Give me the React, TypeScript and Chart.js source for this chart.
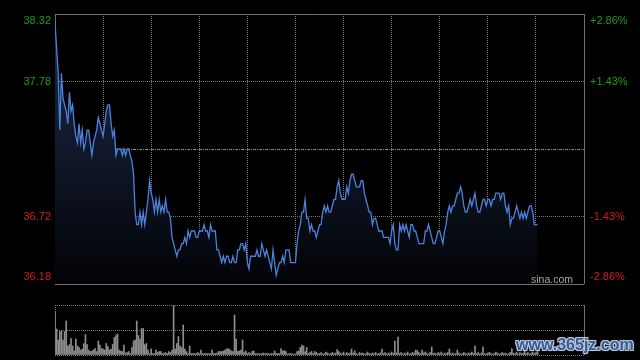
import React, { useEffect, useRef } from 'react';
import { Chart, registerables } from 'chart.js';

Chart.register(...registerables);

// ---- data ----
const PREV_CLOSE = 37.25;
const PRICE_MAX = 38.32;
const PRICE_MIN = 36.18;
const SESSION_MINUTES = 330;

const gridMinutes = [0, 30, 60, 90, 120, 150, 180, 210, 240, 270, 300, 330];
const priceTicks = [36.18, 36.715, 37.25, 37.785, 38.32];
const priceTickLabels = ['36.18', '36.72', '', '37.78', '38.32'];
const pctTickLabels = ['-2.86%', '-1.43%', '', '+1.43%', '+2.86%'];

const pricesMorning = [
  38.25, 38.05, 37.85, 37.40, 37.85, 37.65, 37.60, 37.55, 37.45, 37.70,
  37.55, 37.60, 37.45, 37.35, 37.30, 37.45, 37.30, 37.40, 37.25, 37.30,
  37.40, 37.40, 37.30, 37.20, 37.30, 37.35, 37.40, 37.50, 37.45, 37.40,
  37.35, 37.45, 37.55, 37.60, 37.60, 37.45, 37.35, 37.40, 37.20, 37.25,
  37.25, 37.25, 37.20, 37.25, 37.20, 37.25, 37.25, 37.20, 37.15, 37.05,
  36.75, 36.65, 36.65, 36.75, 36.65, 36.75, 36.65, 36.75, 36.85, 37.00,
  36.90, 36.85, 36.75, 36.85, 36.75, 36.85, 36.75, 36.80, 36.75, 36.85,
  36.75, 36.75, 36.70, 36.55, 36.50, 36.45, 36.40, 36.45, 36.45, 36.50,
  36.50, 36.55, 36.50, 36.60, 36.55,
];
const pricesMidday = [
  36.60, 36.60, 36.60, 36.55, 36.55, 36.60, 36.60, 36.60, 36.65, 36.60,
  36.60, 36.55, 36.65, 36.60, 36.60, 36.60, 36.45, 36.45, 36.40, 36.35,
  36.40, 36.35, 36.40, 36.40, 36.35, 36.35, 36.40, 36.35, 36.35, 36.45,
  36.45, 36.50, 36.50, 36.45, 36.50, 36.35, 36.30, 36.40, 36.40, 36.40,
  36.40, 36.45, 36.40, 36.40, 36.50, 36.45, 36.40, 36.45, 36.40, 36.35,
  36.30, 36.45, 36.35, 36.25, 36.30, 36.35, 36.35, 36.40, 36.35, 36.45,
  36.45, 36.45, 36.35, 36.35, 36.35, 36.35, 36.50, 36.60, 36.65, 36.75,
  36.75, 36.85, 36.70, 36.70, 36.60, 36.65, 36.60, 36.60, 36.55, 36.60,
  36.65, 36.65,
];
const pricesAfternoon = [
  36.75, 36.80, 36.75, 36.80, 36.75, 36.75, 36.80, 36.85, 36.85, 36.95,
  37.00, 36.90, 36.85, 36.85, 36.85, 36.95, 36.90, 37.00, 37.05, 37.05,
  37.00, 36.95, 36.95, 36.95, 37.00, 37.00, 36.90, 36.85, 36.80, 36.75,
  36.75, 36.65, 36.70, 36.70, 36.65, 36.60, 36.60, 36.60, 36.55, 36.55,
  36.55, 36.55, 36.50, 36.60, 36.65, 36.50, 36.45, 36.45, 36.65, 36.60,
  36.65, 36.60, 36.65, 36.60, 36.55, 36.65, 36.65, 36.60, 36.60, 36.55,
  36.50, 36.50, 36.50, 36.50, 36.60, 36.60, 36.65, 36.60, 36.55, 36.50,
  36.50, 36.55, 36.60, 36.60, 36.55, 36.50, 36.60, 36.65, 36.75, 36.80,
  36.75, 36.80,
];
const pricesLate = [
  36.80, 36.85, 36.90, 36.90, 36.95, 36.90, 36.80, 36.75, 36.75, 36.80,
  36.85, 36.80, 36.85, 36.90, 36.80, 36.75, 36.75, 36.80, 36.85, 36.85,
  36.80, 36.85, 36.85, 36.80, 36.85, 36.85, 36.90, 36.90, 36.90, 36.85,
  36.90, 36.90, 36.80, 36.75, 36.80, 36.65, 36.70, 36.70, 36.75, 36.80,
  36.75, 36.70, 36.75, 36.70, 36.75, 36.70, 36.75, 36.80, 36.80, 36.75,
  36.65, 36.65, 36.65,
];
const prices = [...pricesMorning, ...pricesMidday, ...pricesAfternoon, ...pricesLate];

const volumesEarly = [
  87, 52, 30, 47, 48, 30, 47, 68, 18, 21,
  33, 18, 8, 32, 18, 15, 10, 12, 23, 41,
  21, 10, 7, 8, 10, 13, 7, 28, 20, 13,
  12, 10, 23, 17, 10, 12, 21, 35, 39, 42,
  10, 8, 7, 20, 4, 5, 7, 3, 15, 28,
  30, 68, 39, 32, 53, 53, 21, 23, 10, 3,
  12, 3, 3, 10, 5, 7, 7, 3, 4, 5,
  3, 7, 5, 10, 100, 12, 23, 37, 18, 15,
  60, 12, 7, 3, 18, 3, 3, 3, 3, 5,
  3, 10, 3, 3, 3, 3, 3, 3, 10, 3,
  3, 4, 7, 7, 7, 8, 10, 12, 13, 11,
  8, 7, 80, 32, 7, 8, 10, 30, 5, 8,
  3, 5, 3, 7, 8, 3, 3, 3, 2, 3,
  4, 3, 3, 3, 2, 3, 3, 8, 3, 3,
  3, 13, 8, 9, 7, 2, 3, 3, 2, 2,
  2, 7, 8, 15, 20, 18, 7, 15, 3, 5,
  7, 3, 7, 5, 3,
];
const volumesLate = [
  3, 5, 2, 3, 6, 4, 2, 3, 5, 3, 4,
  11,
  7, 4, 3, 6, 2, 5, 3, 4,
  12, 4, 8,
  3, 2, 5, 3, 4, 2, 3, 6, 3, 2, 4, 3, 5, 2, 3, 4,
  12,
  3, 5, 2, 4, 3, 6, 3,
  28, 4, 36,
  3, 5, 2, 4, 3, 6, 2, 3, 5, 4,
  10, 9, 5, 3, 10,
  4, 6, 3, 2, 5,
  16,
  3, 4, 2, 5, 3, 6, 2, 4, 3, 5,
  12,
  3, 4, 2, 3,
  10,
  4, 2, 3, 5, 3, 2, 4, 3, 6, 3,
  18,
  3, 5, 2, 4,
  16,
  3, 2, 4, 5, 3, 2, 3, 6, 4, 2, 3, 5, 3, 4, 2, 3, 5,
  13,
  4, 3, 6, 2, 5, 3, 4, 8, 3, 5, 2, 4, 6, 3, 5, 7,
];
const volumes = [...volumesEarly, ...volumesLate];

// ---- styles ----
const UP_COLOR = '#1c9c1c';
const DOWN_COLOR = '#d41a1a';
const FRAME_COLOR = '#707070';
const DOT_COLOR = '#777777';
const FONT = { family: 'Liberation Sans, Arial, Helvetica, sans-serif', size: 11 };

export default function App() {
  const priceRef = useRef<HTMLCanvasElement>(null);
  const volRef = useRef<HTMLCanvasElement>(null);

  useEffect(() => {
    const pc = priceRef.current;
    const vc = volRef.current;
    if (!pc || !vc) return;

    const tickColor = (c: any) => {
      const v = c.tick ? c.tick.value : PREV_CLOSE;
      return v > PREV_CLOSE ? UP_COLOR : DOWN_COLOR;
    };
    const setPriceTicks = (s: any) => {
      s.ticks = priceTicks.map((v) => ({ value: v }));
    };
    const shiftLabel = (text: string, idx: number) => {
      if (idx === priceTicks.length - 1) return ['', text];
      if (idx === 0) return [text, ''];
      return text;
    };
    const fitY = (w: number) => (s: any) => {
      s.width = w;
      s.paddingTop = 0;
      s.paddingBottom = 0;
      s.paddingLeft = 0;
      s.paddingRight = 0;
    };
    const fitX = (s: any) => {
      s.height = 0;
      s.paddingTop = 0;
      s.paddingBottom = 0;
      s.paddingLeft = 0;
      s.paddingRight = 0;
    };

    const priceChart = new Chart(pc, {
      type: 'line',
      data: {
        datasets: [
          {
            data: prices.map((p, i) => ({ x: i, y: p })),
            borderColor: '#4b82dc',
            borderWidth: 1.3,
            pointRadius: 0,
            tension: 0,
            fill: 'start',
            backgroundColor: (c: any) => {
              const { chart } = c;
              const area = chart.chartArea;
              if (!area) return 'rgba(0,0,0,0)';
              const g = chart.ctx.createLinearGradient(0, area.top, 0, area.bottom);
              g.addColorStop(0, '#1d2d4d');
              g.addColorStop(1, '#020306');
              return g;
            },
          },
        ],
      },
      options: {
        responsive: false,
        animation: false,
        devicePixelRatio: 1,
        layout: { padding: { top: 14, bottom: 11, left: 0, right: 0 } },
        plugins: { legend: { display: false }, tooltip: { enabled: false } },
        scales: {
          x: {
            type: 'linear',
            min: 0,
            max: SESSION_MINUTES,
            afterBuildTicks: (s: any) => {
              s.ticks = gridMinutes.map((v) => ({ value: v }));
            },
            afterFit: fitX,
            ticks: { display: false },
            grid: {
              drawTicks: false,
              lineWidth: 1,
              color: (c: any) => {
                const v = c.tick ? c.tick.value : 0;
                return v === 0 || v === SESSION_MINUTES ? FRAME_COLOR : DOT_COLOR;
              },
            },
            border: {
              display: false,
              dash: (c: any) => {
                const v = c.tick ? c.tick.value : 0;
                return v === 0 || v === SESSION_MINUTES ? [] : [1, 1];
              },
            },
          },
          y: {
            type: 'linear',
            position: 'left',
            min: PRICE_MIN,
            max: PRICE_MAX,
            afterBuildTicks: setPriceTicks,
            afterFit: fitY(55),
            ticks: {
              font: FONT,
              padding: 4,
              color: tickColor,
              callback: (_v: any, idx: number) => shiftLabel(priceTickLabels[idx], idx),
            },
            grid: {
              drawTicks: false,
              lineWidth: 1,
              color: (c: any) => {
                const v = c.tick ? c.tick.value : 0;
                if (v === PRICE_MAX || v === PRICE_MIN) return FRAME_COLOR;
                if (v === PREV_CLOSE) return '#8a8a8a';
                return DOT_COLOR;
              },
            },
            border: {
              display: false,
              dash: (c: any) => {
                const v = c.tick ? c.tick.value : 0;
                if (v === PRICE_MAX || v === PRICE_MIN) return [];
                if (v === PREV_CLOSE) return [3, 1, 1, 1];
                return [1, 1];
              },
            },
          },
          y2: {
            type: 'linear',
            position: 'right',
            min: PRICE_MIN,
            max: PRICE_MAX,
            afterBuildTicks: setPriceTicks,
            afterFit: fitY(56),
            ticks: {
              font: FONT,
              padding: 6,
              color: tickColor,
              callback: (_v: any, idx: number) => shiftLabel(pctTickLabels[idx], idx),
            },
            grid: { display: false, drawTicks: false },
            border: { display: false },
          },
        },
      },
    } as any);

    const volMax = Math.max(...volumes);
    const volChart = new Chart(vc, {
      type: 'bar',
      data: {
        datasets: [
          {
            data: volumes.map((v, i) => ({ x: i, y: v })),
            backgroundColor: '#8e8e8e',
            borderWidth: 0,
            barThickness: 1,
          },
        ],
      },
      options: {
        responsive: false,
        animation: false,
        devicePixelRatio: 1,
        layout: { padding: { top: 10, bottom: 5, left: 0, right: 56 } },
        plugins: { legend: { display: false }, tooltip: { enabled: false } },
        scales: {
          x: {
            type: 'linear',
            min: 0,
            max: SESSION_MINUTES,
            offset: false,
            afterBuildTicks: (s: any) => {
              s.ticks = [{ value: 0 }, { value: SESSION_MINUTES }];
            },
            afterFit: fitX,
            ticks: { display: false },
            grid: {
              drawTicks: false,
              offset: false,
              lineWidth: 1,
              color: (c: any) => {
                const v = c.tick ? c.tick.value : 0;
                return v === SESSION_MINUTES ? FRAME_COLOR : DOT_COLOR;
              },
            },
            border: {
              display: false,
              dash: (c: any) => {
                const v = c.tick ? c.tick.value : 0;
                return v === SESSION_MINUTES ? [] : [1, 1];
              },
            },
          },
          y: {
            type: 'linear',
            min: 0,
            max: volMax,
            afterBuildTicks: (s: any) => {
              s.ticks = [{ value: 0 }, { value: volMax / 2 }, { value: volMax }];
            },
            afterFit: fitY(55),
            ticks: { display: false },
            grid: { drawTicks: false, lineWidth: 1, color: DOT_COLOR },
            border: { display: false, dash: [1, 1] },
          },
        },
      },
    } as any);

    return () => {
      priceChart.destroy();
      volChart.destroy();
    };
  }, []);

  return (
    <div
      style={{
        position: 'fixed',
        left: 0,
        top: 0,
        width: 640,
        height: 360,
        background: '#000',
        overflow: 'hidden',
      }}
    >
      <canvas
        ref={priceRef}
        width={640}
        height={295}
        style={{ position: 'absolute', left: 0, top: 0, width: 640, height: 295 }}
      />
      <canvas
        ref={volRef}
        width={640}
        height={65}
        style={{ position: 'absolute', left: 0, top: 295, width: 640, height: 65 }}
      />
      <span
        style={{
          position: 'absolute',
          left: 531,
          top: 272,
          fontFamily: 'Liberation Sans, Arial, sans-serif',
          fontSize: '10.5px',
          lineHeight: '14px',
          color: '#a8a8a8',
          whiteSpace: 'nowrap',
        }}
      >
        sina.com
      </span>
      <span
        style={{
          position: 'absolute',
          left: 516,
          top: 336,
          fontFamily: 'Liberation Sans, Arial, sans-serif',
          fontWeight: 'bold',
          fontSize: '16px',
          lineHeight: '18px',
          color: '#2c5ca6',
          whiteSpace: 'nowrap',
          textShadow:
            '1px 1px 0 #c4c8d0, -1px -1px 0 #c4c8d0, 1px -1px 0 #c4c8d0, -1px 1px 0 #c4c8d0, 0 0 2px #c4c8d0',
        }}
      >
        www.365jz.com
      </span>
    </div>
  );
}
